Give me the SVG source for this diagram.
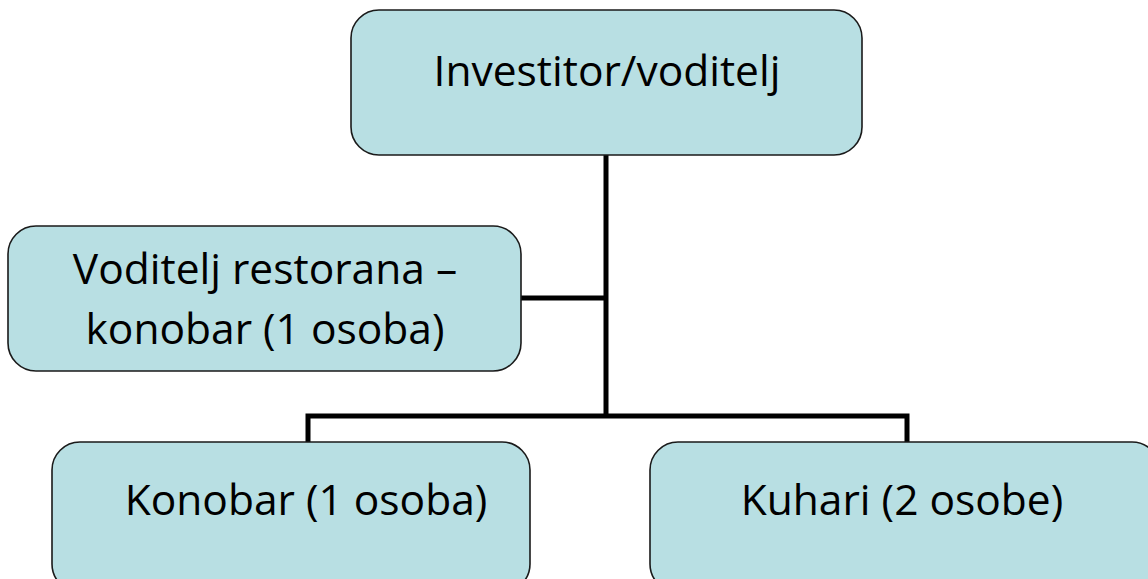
<svg xmlns="http://www.w3.org/2000/svg" width="1148" height="579" viewBox="0 0 1148 579">
<style>
.box{fill:#b8dfe3;stroke:#1a1a1a;stroke-width:1.6}
.t{font-family:"Open Sans","Noto Sans",sans-serif;font-size:42.5px;fill:#000;text-anchor:middle}
.c{fill:none;stroke:#000;stroke-width:5}
</style>
<rect width="1148" height="579" fill="#fff"/>
<g id="connectors">
<path class="c" d="M606 155V416M521 298H606M308 442V416H907V442"/>
</g>
<g id="n1"><rect class="box" x="351" y="10" width="511" height="145" rx="28"/><text class="t" x="607" y="86">Investitor/voditelj</text></g>
<g id="n2"><rect class="box" x="8" y="226" width="513" height="145" rx="28"/><text class="t" x="265" y="284">Voditelj restorana –</text><text class="t" x="265" y="344">konobar (1 osoba)</text></g>
<g id="n3"><rect class="box" x="52" y="442" width="478" height="150" rx="28"/><text class="t" x="306" y="515">Konobar (1 osoba)</text></g>
<g id="n4"><rect class="box" x="650" y="442" width="510" height="150" rx="28"/><text class="t" x="902" y="515">Kuhari (2 osobe)</text></g>
</svg>
